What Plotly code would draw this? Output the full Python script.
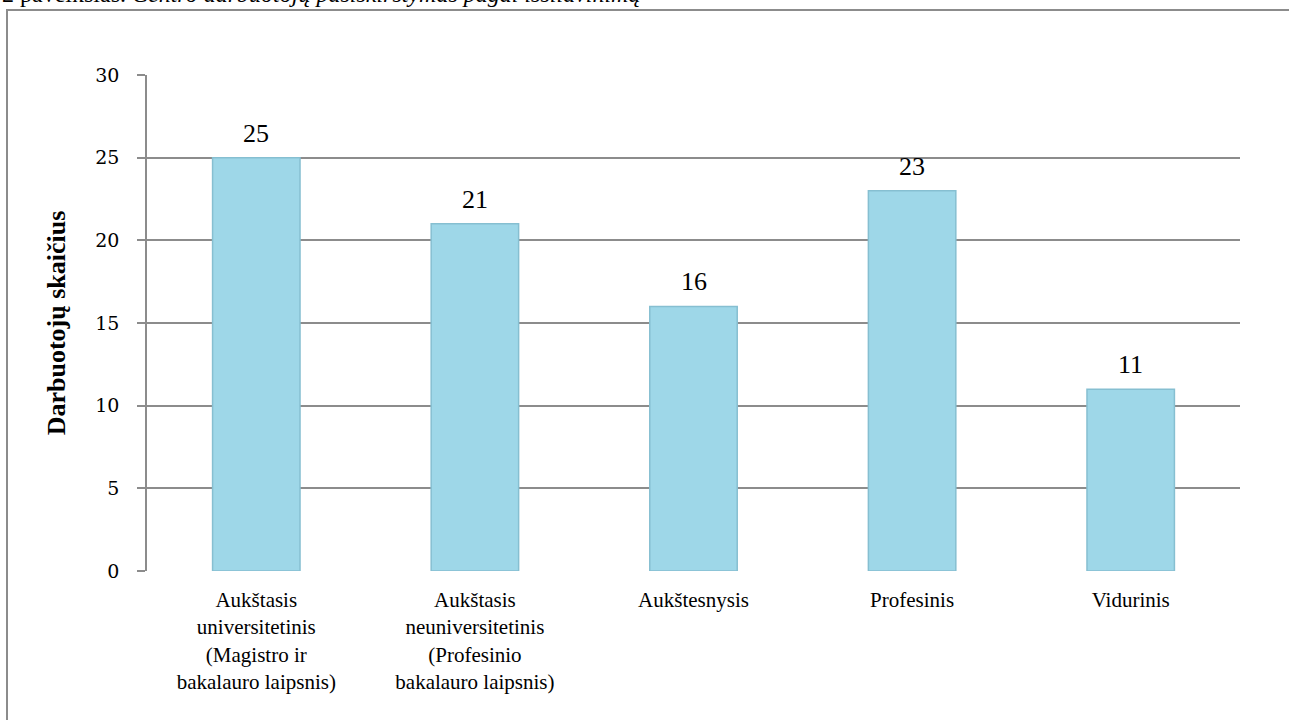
import plotly.graph_objects as go

categories = [
    "Aukštasis<br>universitetinis<br>(Magistro ir<br>bakalauro laipsnis)",
    "Aukštasis<br>neuniversitetinis<br>(Profesinio<br>bakalauro laipsnis)",
    "Aukštesnysis",
    "Profesinis",
    "Vidurinis",
]
values = [25, 21, 16, 23, 11]
y_ticks = [0, 5, 10, 15, 20, 25, 30]

W, H = 1289, 720
L, R, T, B = 147, 49, 75, 149
pw, ph = W - L - R, H - T - B

def px_x(p):
    return (p - L) / pw

def px_y(p):
    return 1 + (T - p) / ph

xs = list(range(len(categories)))

fig = go.Figure()
fig.add_trace(go.Bar(
    x=xs,
    y=values,
    width=0.4,
    marker=dict(color="#9ED7E8", line=dict(color="#86BFD1", width=1.5)),
    hoverinfo="y",
))

for xi, v in zip(xs, values):
    fig.add_annotation(x=xi, y=v, xref="x", yref="y", text=str(v),
                       showarrow=False, yanchor="bottom", yshift=8,
                       font=dict(family="Liberation Serif", size=26, color="black"))

fig.update_layout(
    width=W, height=H,
    margin=dict(l=L, r=R, t=T, b=B),
    paper_bgcolor="white", plot_bgcolor="white",
    showlegend=False,
    xaxis=dict(
        tickmode="array",
        tickvals=xs,
        ticktext=categories,
        range=[-0.5, len(categories) - 0.5],
        tickfont=dict(family="Liberation Serif", size=21, color="black"),
        showgrid=False, zeroline=False,
        showline=False, ticks="", ticklabelstandoff=14,
    ),
    yaxis=dict(
        range=[0, 30],
        tickvals=y_ticks,
        tickfont=dict(family="DejaVu Serif", size=19, color="black"),
        showgrid=True, gridcolor="#8C8C8C", gridwidth=1.5,
        zeroline=False,
        showline=True, linecolor="#8C8C8C", linewidth=1.5,
        ticks="outside", ticklen=8, tickcolor="#8C8C8C", tickwidth=1.5,
        ticklabelstandoff=14,
        title=dict(text="<b>Darbuotojų skaičius</b>",
                   font=dict(family="Liberation Serif", size=26, color="black"),
                   standoff=22),
    ),
)

# outer frame
fig.add_shape(type="rect", xref="paper", yref="paper",
              x0=px_x(7), x1=px_x(W + 20), y0=px_y(H + 20), y1=px_y(10),
              line=dict(color="#8C8C8C", width=2), fillcolor="rgba(0,0,0,0)", layer="below")

# caption (cut off at the top edge, as in the reference)
fig.add_annotation(
    xref="paper", yref="paper", x=px_x(0), y=px_y(9),
    xanchor="left", yanchor="bottom", showarrow=False,
    text="2 paveikslas. <i>Centro darbuotojų pasiskirstymas pagal išsilavinimą</i>",
    font=dict(family="Liberation Serif", size=24, color="black"),
)

fig.write_html("out.html", config={"displayModeBar": False},
               post_script="document.body.style.margin='0';document.body.style.padding='0';document.body.style.overflow='hidden';")
